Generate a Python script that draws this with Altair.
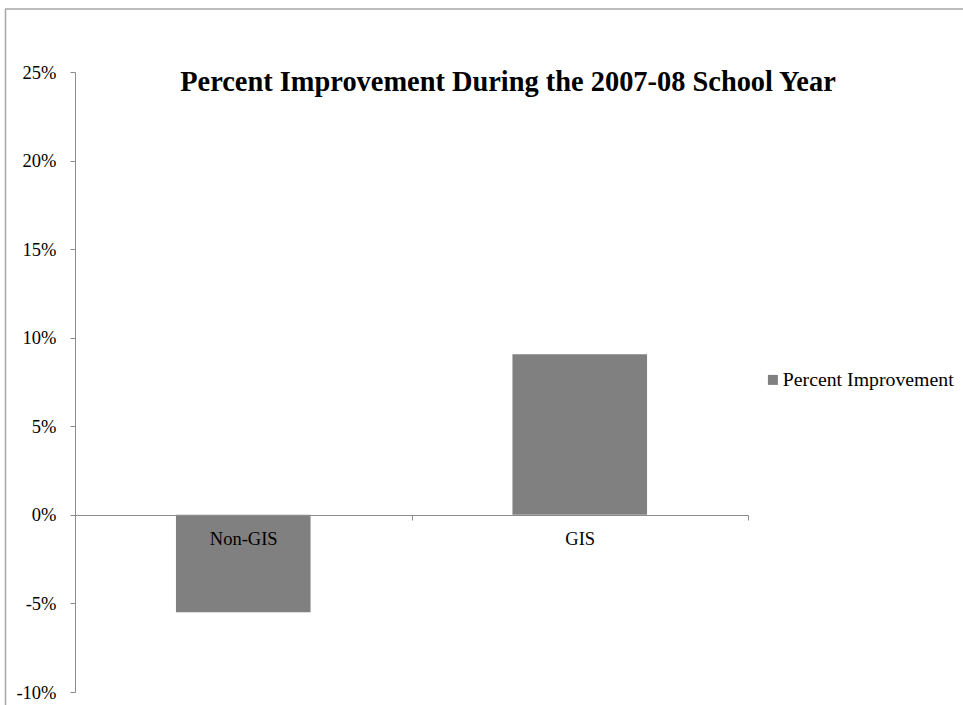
import altair as alt
import pandas as pd

# Percent improvement by group (fractions)
groups = ["Non-GIS", "GIS"]
improvement = [-0.055, 0.0907]
series_name = "Percent Improvement"
title_text = "Percent Improvement During the 2007-08 School Year"

df = pd.DataFrame({
    "group": groups,
    "value": improvement,
    "series": [series_name] * len(groups),
})

SERIF = "Liberation Serif"
AXIS_GRAY = "#8c8c8c"

bars = alt.Chart(df).mark_bar(width=alt.RelativeBandSize(0.4)).encode(
    x=alt.X(
        "group:N",
        sort=groups,
        scale=alt.Scale(paddingInner=0, paddingOuter=0),
        axis=alt.Axis(
            title=None,
            orient="bottom",
            offset=-177,
            tickBand="extent",
            tickSize=5,
            labelPadding=9,
            labelAngle=0,
            labelOverlap=False,
            domainColor=AXIS_GRAY,
            tickColor=AXIS_GRAY,
            zindex=1,
        ),
    ),
    y=alt.Y(
        "value:Q",
        scale=alt.Scale(domain=[-0.10, 0.25], nice=False),
        axis=alt.Axis(
            title=None,
            values=[-0.10, -0.05, 0, 0.05, 0.10, 0.15, 0.20, 0.25],
            labelExpr="(datum.value < 0 ? '-' : '') + format(abs(datum.value), '.0%')",
            grid=False,
            tickSize=5,
            labelPadding=14,
            domainColor=AXIS_GRAY,
            tickColor=AXIS_GRAY,
        ),
    ),
    color=alt.Color(
        "series:N",
        scale=alt.Scale(range=["#808080"]),
        legend=alt.Legend(
            title=None,
            orient="none",
            legendX=688,
            legendY=298,
            padding=0,
            symbolType="square",
            symbolSize=100,
            symbolStrokeWidth=0,
            labelOffset=0,
            labelFont=SERIF,
            labelFontSize=19.8,
            labelColor="black",
            labelLimit=0,
        ),
    ),
)

one_row = pd.DataFrame({"k": [0]})

# Chart heading, drawn inside the plot area near its top
heading = alt.Chart(one_row).mark_text(
    font=SERIF,
    fontSize=28.4,
    fontWeight="bold",
    color="black",
    align="center",
    baseline="alphabetic",
).encode(x=alt.value(433), y=alt.value(19), text=alt.value(title_text))

# Outer frame lines (left and top edges of the chart box)
frame_left = alt.Chart(one_row).mark_rule(color="#a6a6a6", strokeWidth=1.5).encode(
    x=alt.value(-69.5), y=alt.value(-63), y2=alt.value(640)
)
frame_top = alt.Chart(one_row).mark_rule(color="#a6a6a6", strokeWidth=1.5).encode(
    x=alt.value(-70), x2=alt.value(900), y=alt.value(-63)
)

chart = alt.layer(frame_left, frame_top, bars, heading).properties(
    width=673,
    height=620,
    background="white",
    padding={"left": 75, "top": 72, "right": 215, "bottom": 13},
    autosize=alt.AutoSizeParams(type="none"),
).configure_axis(
    labelFont=SERIF,
    labelFontSize=18.5,
    labelColor="black",
    domainWidth=1,
).configure_view(
    stroke=None
)

chart.save("out.html", embed_options={"renderer": "svg", "actions": False})
